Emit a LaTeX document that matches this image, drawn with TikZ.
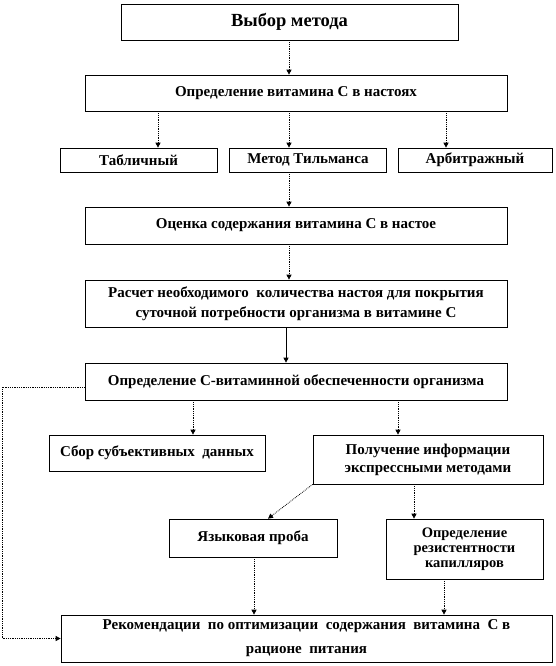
\documentclass[tikz,border=0pt]{standalone}
\usepackage{fontspec}
\setmainfont{Liberation Serif}
\usetikzlibrary{arrows.meta}
\begin{document}
\begin{tikzpicture}[x=1pt,y=-1pt,
  box/.style={draw=black,line width=0.7pt,rectangle,inner sep=0pt,align=center,font=\bfseries\fontsize{15}{18}\selectfont},
  arr/.style={densely dotted,line width=0.8pt,-{Triangle[length=5pt,width=5pt]}},
  sarr/.style={line width=0.8pt,-{Triangle[length=5pt,width=5pt]}}]
\useasboundingbox (0,0) rectangle (556,666);
\node[box,minimum width=337pt,minimum height=36pt,font=\bfseries\fontsize{18.5}{21}\selectfont] (b1) at (289.5,22) {Выбор метода};
\node[box,minimum width=422pt,minimum height=36pt] (b2) at (296,93) {Определение витамина С в настоях};
\node[box,minimum width=157pt,minimum height=24pt] (b3a) at (138.5,160) {Табличный};
\node[box,minimum width=157.5pt,minimum height=24pt] (b3b) at (308,160) {Метод Тильманса};
\node[box,minimum width=154pt,minimum height=24pt] (b3c) at (475,160) {Арбитражный};
\node[box,minimum width=422pt,minimum height=37pt] (b4) at (296,225.5) {Оценка содержания витамина С в настое};
\node[box,minimum width=422pt,minimum height=47pt,font=\bfseries\fontsize{15}{20}\selectfont] (b5) at (296,303.5) {Расчет необходимого\ \ количества настоя для покрытия\\суточной потребности организма в витамине С};
\node[box,minimum width=422pt,minimum height=37pt] (b6) at (296,381.5) {Определение С-витаминной обеспеченности организма};
\node[box,minimum width=216pt,minimum height=36pt] (b7) at (157,453) {Сбор субъективных\ \ данных};
\node[box,minimum width=230pt,minimum height=49pt] (b8) at (428,459.5) {Получение информации\\экспрессными методами};
\node[box,minimum width=168pt,minimum height=38pt] (b9) at (253,538) {Языковая проба};
\node[box,minimum width=157pt,minimum height=60pt,font=\bfseries\fontsize{14.5}{15}\selectfont] (b10) at (464.5,549) {Определение\\резистентности\\капилляров};
\node[box,minimum width=491pt,minimum height=47pt,font=\bfseries\fontsize{15}{24}\selectfont] (b11) at (306.5,638.5) {Рекомендации\ \ по оптимизации\ \ содержания\ \ витамина\ \ С в\\рационе\ \ питания};
\coordinate (x158) at (158,0);
\coordinate (x289) at (289,0);
\coordinate (x446) at (446,0);
\coordinate (x286) at (286,0);
\coordinate (x193) at (193,0);
\coordinate (x398) at (398,0);
\coordinate (x414) at (414,0);
\coordinate (x268) at (268,0);
\coordinate (x254) at (254,0);
\coordinate (x444) at (444,0);
\coordinate (lp) at (2,387);
\draw[arr] (b1.south -| x289) -- (b2.north -| x289);
\draw[arr] (b2.south -| x158) -- (b3a.north -| x158);
\draw[arr] (b2.south -| x289) -- (b3b.north -| x289);
\draw[arr] (b2.south -| x446) -- (b3c.north -| x446);
\draw[arr] (b3b.south -| x289) -- (b4.north -| x289);
\draw[arr] (b4.south -| x289) -- (b5.north -| x289);
\draw[sarr] (b5.south -| x286) -- (b6.north -| x286);
\draw[arr] (b6.south -| x193) -- (b7.north -| x193);
\draw[arr] (b6.south -| x398) -- (b8.north -| x398);
\draw[arr] (b8.south west) -- (b9.north -| x268);
\draw[arr] (b8.south -| x414) -- (b10.north -| x414);
\draw[arr] (b9.south -| x254) -- (b11.north -| x254);
\draw[arr] (b10.south -| x444) -- (b11.north -| x444);
\draw[arr] (b6.west |- lp) -- (lp) |- (b11.west);
\end{tikzpicture}
\end{document}
